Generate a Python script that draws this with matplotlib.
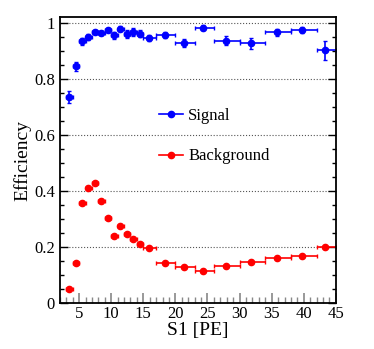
import numpy as np
import matplotlib.pyplot as plt
from matplotlib.ticker import MultipleLocator
from matplotlib.lines import Line2D

plt.rcParams['font.family'] = ['Liberation Serif', 'DejaVu Serif']

# bin edges in S1 [PE] and mean position inside each bin
bin_lo = np.array([3, 4, 5, 6, 7, 8, 9, 10, 11, 12, 13, 14, 15, 17, 20, 23, 26, 30, 34, 38, 42])
bin_hi = np.array([4, 5, 6, 7, 8, 9, 10, 11, 12, 13, 14, 15, 17, 20, 23, 26, 30, 34, 38, 42, 45])
s1 = np.array([3.5, 4.5, 5.45, 6.45, 7.45, 8.45, 9.5, 10.45, 11.45, 12.45, 13.45, 14.45,
               15.9, 18.4, 21.3, 24.3, 27.9, 31.8, 35.8, 39.8, 43.3])

sig_eff = np.array([0.736, 0.845, 0.934, 0.950, 0.967, 0.964, 0.974, 0.956, 0.979, 0.960,
                    0.968, 0.962, 0.946, 0.957, 0.927, 0.983, 0.937, 0.927, 0.967, 0.976, 0.902])
sig_err = np.array([0.022, 0.017, 0.011, 0.010, 0.008, 0.008, 0.008, 0.013, 0.009, 0.014,
                    0.013, 0.012, 0.012, 0.010, 0.014, 0.008, 0.016, 0.020, 0.013, 0.011, 0.035])

bkg_eff = np.array([0.051, 0.142, 0.358, 0.410, 0.430, 0.365, 0.305, 0.238, 0.276, 0.246,
                    0.230, 0.212, 0.196, 0.144, 0.129, 0.114, 0.131, 0.146, 0.162, 0.166, 0.201])
bkg_err = np.full(len(bkg_eff), 0.003)

xerr = [s1 - bin_lo, bin_hi - s1]

fig = plt.figure(figsize=(3.74, 3.49), dpi=100)
ax = fig.add_axes([0.160, 0.132, 0.738, 0.819])

ax.errorbar(s1, sig_eff, yerr=sig_err, xerr=xerr, fmt='o', color='#0000ff', ms=4.5,
            elinewidth=1.2, capsize=1.5, capthick=1.0)
ax.errorbar(s1, bkg_eff, yerr=bkg_err, xerr=xerr, fmt='o', color='#ff0000', ms=4.5,
            elinewidth=1.2, capsize=1.5, capthick=1.0)

ax.set_xlim(2, 45)
ax.set_ylim(0, 1.021)
ax.xaxis.set_major_locator(MultipleLocator(5))
ax.xaxis.set_minor_locator(MultipleLocator(1))
ax.yaxis.set_minor_locator(MultipleLocator(0.05))
ax.set_yticks([0, 0.2, 0.4, 0.6, 0.8, 1])
ax.set_yticklabels(['0', '0.2', '0.4', '0.6', '0.8', '1'])
ax.grid(True, axis='y', linestyle=':', color='#555555', linewidth=0.8)
ax.tick_params(which='both', direction='in', top=False, right=True, labelsize=12)
ax.tick_params(axis='x', which='major', length=7, color='#888888', width=1.2, pad=2.5)
ax.tick_params(axis='x', which='minor', length=4, color='#888888', width=1.0)
ax.tick_params(axis='y', which='major', length=6, width=1.0)
ax.tick_params(axis='y', which='minor', length=3, width=1.0)
for sp in ax.spines.values():
    sp.set_linewidth(1.3)

ax.set_xlabel('S1 [PE]', fontsize=14, labelpad=0)
ax.set_ylabel('Efficiency', fontsize=14, labelpad=2)

h1 = Line2D([], [], color='#0000ff', marker='o', ms=4.5, lw=1.2)
h2 = Line2D([], [], color='#ff0000', marker='o', ms=4.5, lw=1.2)
ax.legend([h1, h2], ['Signal', 'Background'], loc='center left', bbox_to_anchor=(0.305, 0.583),
          frameon=False, fontsize=12, handlelength=1.45, labelspacing=1.45, handletextpad=0.3)

fig.savefig('out.png', dpi=100)
